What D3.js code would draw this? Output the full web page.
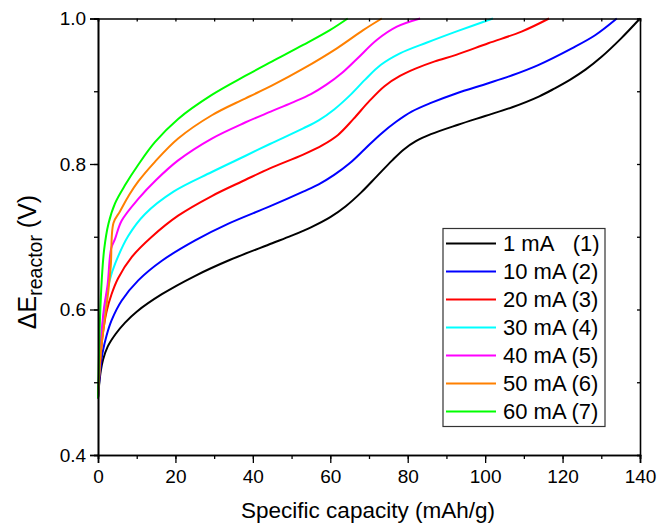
<!DOCTYPE html>
<html><head><meta charset="utf-8">
<script src="https://cdn.jsdelivr.net/npm/d3@7"></script>
<style>body{margin:0;background:#fff;} text{font-family:Arial,"Liberation Sans",sans-serif;}</style>
</head><body><svg id="c" width="657" height="524"></svg>
<script>
const labels = ["1 mA\u00a0\u00a0\u00a0(1)","10 mA (2)","20 mA (3)","30 mA (4)","40 mA (5)","50 mA (6)","60 mA (7)"];
const colors = ["#000000","#0000ff","#ff0000","#00ffff","#ff00ff","#ff8000","#00ff00"];
const xTicks = [0,20,40,60,80,100,120,140];
const yTicks = [0.4,0.6,0.8,1.0];
const c1 = [[0,0.478],[0.3,0.497],[0.7,0.515],[1.3,0.531],[2.5,0.549],[4.5,0.566],[7,0.582],[10,0.597],[16.5,0.621],[25,0.646],[34,0.668],[45,0.691],[50,0.7015],[55,0.713],[60,0.727],[64,0.742],[68,0.761],[72,0.783],[76,0.805],[79,0.820],[82,0.831],[86,0.841],[93,0.854],[100,0.866],[107,0.878],[114,0.893],[118,0.904],[122,0.916],[126,0.930],[130,0.947],[135,0.972],[140,1.0]];
const c2 = [[0,0.478],[0.3,0.5],[0.7,0.522],[1.2,0.541],[2.2,0.564],[3.5,0.585],[6.1,0.612],[10.4,0.64],[16.5,0.667],[25.1,0.695],[33.7,0.718],[44.5,0.742],[53,0.762],[57,0.772],[61,0.785],[65,0.801],[69,0.821],[73,0.841],[77,0.858],[81,0.872],[86,0.884],[92.5,0.897],[100.8,0.911],[107,0.922],[113.7,0.936],[122.4,0.959],[128.4,0.977],[134,1.0]];
const c3 = [[0,0.478],[0.3,0.505],[0.7,0.535],[1.2,0.565],[2.2,0.597],[3.5,0.621],[5.2,0.643],[8.7,0.672],[13.9,0.700],[20.7,0.729],[29.4,0.756],[38,0.778],[44.4,0.794],[53,0.813],[58,0.826],[62,0.840],[66,0.862],[70,0.886],[74,0.907],[78,0.921],[82,0.931],[87,0.941],[92.5,0.950],[100.8,0.966],[109.4,0.982],[116.5,1.0]];
const c4 = [[0,0.478],[0.3,0.51],[0.7,0.545],[1.2,0.58],[2.0,0.613],[3.0,0.64],[4.5,0.664],[7.8,0.701],[12.1,0.731],[19.5,0.762],[29.4,0.789],[38,0.811],[44.4,0.8275],[53,0.849],[57,0.860],[61,0.875],[65,0.894],[69,0.916],[73,0.936],[78,0.952],[85,0.967],[93,0.983],[102,1.0]];
const c5 = [[0,0.478],[0.3,0.515],[0.8,0.56],[1.5,0.6],[2.5,0.635],[3.4,0.684],[4.4,0.697],[6.1,0.722],[10.4,0.752],[15,0.778],[20.7,0.805],[29.4,0.835],[38,0.857],[44.6,0.872],[50,0.884],[55,0.896],[59,0.909],[63,0.925],[67,0.945],[72,0.9704],[77.2,0.9887],[83.2,1.0]];
const c6 = [[0,0.478],[0.3,0.51],[0.8,0.545],[1.6,0.58],[2.7,0.627],[3.3,0.66],[4.0,0.719],[5.7,0.735],[8.0,0.757],[10.4,0.776],[14.7,0.803],[20.7,0.835],[29.4,0.867],[38,0.890],[45,0.908],[53,0.931],[61.7,0.959],[68.5,0.984],[73.3,1.0]];
const c7 = [[0,0.478],[0.1,0.502],[0.25,0.537],[0.5,0.585],[0.96,0.64],[1.6,0.683],[2.7,0.718],[4.4,0.746],[7.0,0.771],[10.4,0.799],[14.7,0.830],[20.7,0.862],[29.4,0.895],[38,0.921],[45,0.941],[53,0.9636],[59.9,0.984],[64.5,1.0]];
const series = [c1,c2,c3,c4,c5,c6,c7];

const svg = d3.select("#c");
const L=98, T=18.5, W=542, H=436.5;
const x = d3.scaleLinear().domain([0,140]).range([L,L+W]);
const y = d3.scaleLinear().domain([0.4,1.0]).range([T+H,T]);

const line = d3.line().x(d=>x(d[0])).y(d=>y(d[1])).curve(d3.curveCatmullRom.alpha(0.5));
const plot = svg.append("g");
series.forEach((s,i)=>{
  plot.append("path").attr("d",line(s)).attr("fill","none").attr("stroke",colors[i]).attr("stroke-width",2).attr("stroke-linejoin","round");
});

const xMinor = d3.range(0,141,10);
const yMinor = d3.range(0.4,1.001,0.1);
const gb = svg.append("g").attr("transform",`translate(0,${T+H})`);
gb.call(d3.axisBottom(x).tickValues(xMinor).tickSize(4).tickFormat(""));
gb.call(g=>g.append("g").call(d3.axisBottom(x).tickValues(xTicks).tickSize(8).tickFormat(d3.format("d"))));
const gl = svg.append("g").attr("transform",`translate(${L},0)`);
gl.call(d3.axisLeft(y).tickValues(yMinor).tickSize(4).tickFormat(""));
gl.call(g=>g.append("g").call(d3.axisLeft(y).tickValues(yTicks).tickSize(8).tickFormat(d3.format(".1f"))));
const gt = svg.append("g").attr("transform",`translate(0,${T})`);
gt.call(d3.axisBottom(x).tickValues(xMinor).tickSize(3).tickFormat(""));
const gr = svg.append("g").attr("transform",`translate(${L+W},0)`);
gr.call(d3.axisLeft(y).tickValues(yMinor).tickSize(3).tickFormat(""));
svg.selectAll(".domain").attr("stroke","#000").attr("stroke-width",1.6);
svg.selectAll(".tick line").attr("stroke","#000").attr("stroke-width",1.3);
svg.selectAll(".tick text").attr("font-size",19).attr("fill","#000").style("font-family","Arial, 'Liberation Sans', sans-serif");
gb.selectAll(".tick text").attr("dy","0.92em");
gl.selectAll(".tick text").attr("dx","-0.05em");

svg.append("text").attr("x",L+W/2-1).attr("y",518).attr("text-anchor","middle").attr("font-size",22.5).text("Specific capacity (mAh/g)");
const yt = svg.append("text").attr("transform",`translate(36,262) rotate(-90)`).attr("text-anchor","middle").attr("font-size",25);
yt.append("tspan").text("\u0394E");
yt.append("tspan").attr("font-size",19.5).attr("dy",6).text("reactor");
yt.append("tspan").attr("dy",-6).text(" (V)");

const lg = svg.append("g");
lg.append("rect").attr("x",443).attr("y",228.5).attr("width",162).attr("height",198).attr("fill","#fff").attr("stroke","#333").attr("stroke-width",1.2);
labels.forEach((t,i)=>{
  const yy = 243.5 + i*28;
  lg.append("line").attr("x1",446).attr("x2",496).attr("y1",yy).attr("y2",yy).attr("stroke",colors[i]).attr("stroke-width",2);
  lg.append("text").attr("x",503).attr("y",yy).attr("dy","0.36em").attr("font-size",22).text(t);
});
</script></body></html>
